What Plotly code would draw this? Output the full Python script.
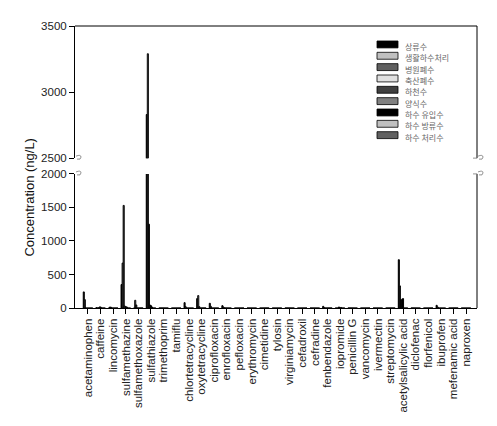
import plotly.graph_objects as go

categories = ["acetaminophen", "caffeine", "lincomycin", "sulfamethazine", "sulfamethoxazole",
              "sulfathiazole", "trimethoprim", "tamiflu", "chlortetracycline", "oxytetracycline",
              "ciprofloxacin", "enrofloxacin", "pefloxacin", "erythromycin", "cimetidine",
              "tylosin", "virginiamycin", "cefadroxil", "cefradine", "fenbendazole",
              "iopromide", "penicillin G", "vancomycin", "ivermectin", "streptomycin",
              "acetylsalicylic acid", "diclofenac", "florfenicol", "ibuprofen",
              "mefenamic acid", "naproxen"]

series_names = ["상류수", "생활하수처리", "병원폐수", "축산폐수", "하천수",
                "양식수", "하수 유입수", "하수 방류수", "하수 처리수"]
series_colors = ["#000000", "#c0c0c0", "#606060", "#e0e0e0", "#404040",
                 "#808080", "#000000", "#c0c0c0", "#606060"]

# values per series (ng/L), one per category
s1 = [240, 5, 0, 350, 0, 2830, 0, 0, 80, 140, 70, 35, 0, 0, 0, 0, 0, 0, 0, 25, 0, 0, 0, 0, 0, 720, 0, 0, 40, 0, 0]
s2 = [125, 0, 15, 670, 115, 3290, 0, 0, 20, 185, 25, 15, 0, 0, 0, 0, 0, 0, 0, 5, 0, 0, 0, 0, 0, 330, 0, 0, 15, 0, 0]
s3 = [0, 0, 10, 1530, 45, 1250, 0, 0, 0, 20, 0, 0, 0, 0, 0, 0, 0, 0, 0, 0, 0, 0, 0, 0, 0, 120, 0, 0, 0, 0, 0]
s4 = [0, 15, 0, 30, 0, 45, 0, 0, 0, 0, 0, 0, 0, 0, 0, 0, 0, 0, 0, 0, 15, 0, 0, 0, 0, 130, 0, 0, 0, 0, 0]
s5 = [0, 15, 0, 20, 0, 35, 0, 0, 0, 0, 0, 0, 0, 0, 0, 0, 0, 0, 0, 0, 0, 0, 0, 0, 0, 140, 0, 0, 0, 0, 0]
s6 = [0, 0, 0, 15, 0, 15, 0, 0, 0, 0, 0, 0, 0, 0, 0, 0, 0, 0, 0, 0, 8, 0, 0, 0, 0, 0, 0, 0, 0, 0, 0]
s7 = [0] * 31
s8 = [0] * 31
s9 = [0] * 31
series_values = [s1, s2, s3, s4, s5, s6, s7, s8, s9]

low_ticks = [0, 500, 1000, 1500, 2000]
high_ticks = [2500, 3000, 3500]

# page has an 8px body margin; compensate so the plot lands at the reference position
OFF = 8
W, H = 497 - OFF, 426 - OFF
# plot area in screen pixels
PX0, PX1, PY0, PY1 = 75, 477, 22, 308
L, T = PX0 - OFF, PY0 - OFF
R, B = W - (PX1 - OFF), H - (PY1 - OFF)
PW, PH = PX1 - PX0, PY1 - PY0

def px(x):
    return (x - PX0) / PW

def py(y):
    return (PY1 - y) / PH

low_top = py(172)
high_bot = py(156)

fig = go.Figure()
for name, col, vals in zip(series_names, series_colors, series_values):
    for xa, ya in (("x", "y"), ("x2", "y2")):
        fig.add_trace(go.Bar(x=categories, y=vals, name=name, xaxis=xa, yaxis=ya,
                             marker=dict(color=col, line=dict(color="#000000", width=1)),
                             showlegend=False))

font = "Arial, Liberation Sans, sans-serif"
fig.update_layout(
    width=W, height=H, margin=dict(l=L, r=R, t=T, b=B),
    plot_bgcolor="white", paper_bgcolor="white",
    barmode="group", bargap=0.25, bargroupgap=0,
    font=dict(family=font, size=11.5, color="#222"),
    xaxis=dict(domain=[0, 1], anchor="y", range=[-1.03, 30.87], showline=True,
               linecolor="#000", linewidth=1, ticks="outside", ticklen=5, tickcolor="#000",
               tickmode="array", tickvals=categories, ticktext=categories,
               tickangle=-90, tickfont=dict(size=11.5, color="#222"), showgrid=False,
               zeroline=False),
    xaxis2=dict(domain=[0, 1], anchor="y2", matches="x", showline=False,
                ticks="", showticklabels=False, showgrid=False, zeroline=False),
    yaxis=dict(domain=[0, low_top], anchor="x", range=[0, 2000], tickvals=low_ticks,
               showline=True, linecolor="#000", linewidth=1, ticks="outside",
               ticklen=5, tickcolor="#000", showgrid=False, zeroline=False,
               tickfont=dict(size=11.5, color="#222")),
    yaxis2=dict(domain=[high_bot, 1], anchor="x2", range=[2500, 3500], tickvals=high_ticks,
                showline=True, linecolor="#000", linewidth=1, ticks="outside",
                ticklen=5, tickcolor="#000", showgrid=False, zeroline=False,
                tickfont=dict(size=11.5, color="#222")),
)

# y-axis title
fig.add_annotation(text="Concentration (ng/L)", xref="paper", yref="paper",
                   x=px(30), y=py(196), xanchor="center", yanchor="middle",
                   showarrow=False, textangle=-90,
                   font=dict(size=13, color="#111", family=font))

shapes = []
# frame lines: top, right (upper and lower segments)
frame = [(75, 22, 477, 22), (477, 22, 477, 156), (477, 172, 477, 308)]
for x0, y0, x1, y1 in frame:
    shapes.append(dict(type="line", xref="paper", yref="paper",
                       x0=px(x0), y0=py(y0), x1=px(x1), y1=py(y1),
                       line=dict(color="#000", width=1)))

# break marks
for ax_x in (75, 477):
    for yy in (156, 172):
        path = (f"M {px(ax_x+1)},{py(yy-2)} Q {px(ax_x+6)},{py(yy-4)} {px(ax_x+6)},{py(yy-1)} "
                f"Q {px(ax_x+6)},{py(yy+2)} {px(ax_x+2)},{py(yy+1)}")
        shapes.append(dict(type="path", xref="paper", yref="paper", path=path,
                           line=dict(color="#777", width=0.8)))
        if ax_x == 477:
            shapes.append(dict(type="line", xref="paper", yref="paper",
                               x0=px(ax_x - 4), x1=px(ax_x), y0=py(yy), y1=py(yy),
                               line=dict(color="#777", width=0.8)))

# legend (manual)
for k, (name, col) in enumerate(zip(series_names, series_colors)):
    yc = 40.7 + 11.5 * k
    shapes.append(dict(type="rect", xref="paper", yref="paper",
                       x0=px(377), x1=px(398), y0=py(yc - 3.5), y1=py(yc + 3.5),
                       fillcolor=col, line=dict(color="#000", width=0.8)))
    fig.add_annotation(text=name, xref="paper", yref="paper", x=px(403), y=py(yc + 2),
                       xanchor="left", yanchor="middle", showarrow=False,
                       font=dict(size=8, color="#666", family="Noto Sans CJK KR"))
fig.update_layout(shapes=shapes)

fig.write_html("out.html")
